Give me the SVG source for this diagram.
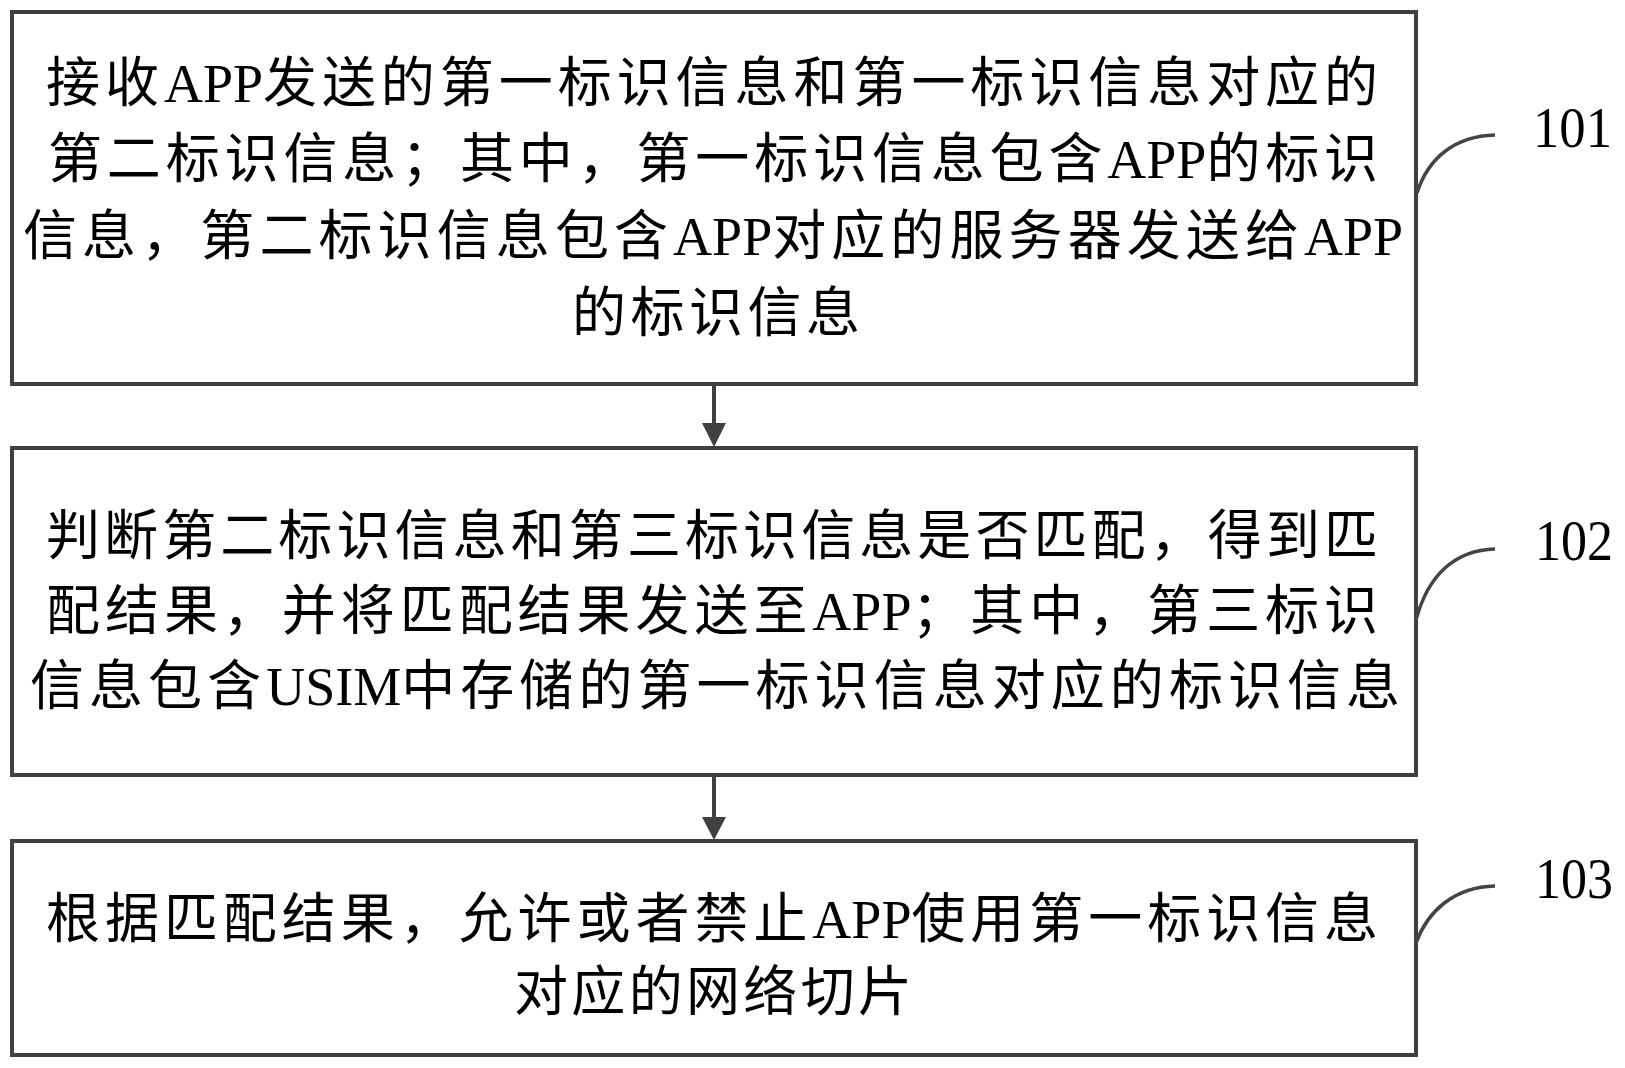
<svg xmlns="http://www.w3.org/2000/svg" width="1625" height="1068" viewBox="0 0 1625 1068">
<style>
.box{fill:#fff;stroke:#404040;stroke-width:4}
.t{font-family:"Liberation Serif","Noto Sans CJK SC",serif;font-size:54px;fill:#000}
.l{letter-spacing:0}
.num{font-family:"Liberation Serif",serif;font-size:58px;fill:#000}
.lead{fill:none;stroke:#454545;stroke-width:3.5}
.conn{stroke:#404040;stroke-width:4;fill:none}
.head{fill:#404040}
</style>
<rect width="1625" height="1068" fill="#fff"/>
<g id="node101">
<rect class="box" x="12" y="12" width="1404" height="372"/>
<text class="t" x="46" y="102" letter-spacing="4.95">接收<tspan class="l">APP</tspan>发送的第一标识信息和第一标识信息对应的</text>
<text class="t" x="48" y="178" letter-spacing="4.85">第二标识信息；其中，第一标识信息包含<tspan class="l">APP</tspan>的标识</text>
<text class="t" x="23" y="255" letter-spacing="5.1">信息，第二标识信息包含<tspan class="l">APP</tspan>对应的服务器发送给<tspan class="l">APP</tspan></text>
<text class="t" x="572" y="332" letter-spacing="4.5">的标识信息</text>
</g>
<g id="node102">
<rect class="box" x="12" y="448" width="1404" height="327"/>
<text class="t" x="46" y="555" letter-spacing="4.09">判断第二标识信息和第三标识信息是否匹配，得到匹</text>
<text class="t" x="46" y="630" letter-spacing="4.95">配结果，并将匹配结果发送至<tspan class="l">APP</tspan>；其中，第三标识</text>
<text class="t" x="30" y="705" letter-spacing="5.05">信息包含<tspan class="l">USIM</tspan>中存储的第一标识信息对应的标识信息</text>
</g>
<g id="node103">
<rect class="box" x="12" y="841" width="1404" height="214"/>
<text class="t" x="46" y="938" letter-spacing="4.95">根据匹配结果，允许或者禁止<tspan class="l">APP</tspan>使用第一标识信息</text>
<text class="t" x="514" y="1011" letter-spacing="3.33">对应的网络切片</text>
</g>
<g id="labels">
<path class="lead" d="M1495,135 C1455,136 1428,158 1417,193"/>
<text class="num" x="1533" y="147" textLength="79" lengthAdjust="spacingAndGlyphs">101</text>
<path class="lead" d="M1495,549 C1455,550 1428,575 1416,620"/>
<text class="num" x="1535" y="560" textLength="78" lengthAdjust="spacingAndGlyphs">102</text>
<path class="lead" d="M1495,886 C1455,887 1428,910 1416,943"/>
<text class="num" x="1535" y="898" textLength="78" lengthAdjust="spacingAndGlyphs">103</text>
</g>
<g id="connectors">
<line class="conn" x1="714" y1="386" x2="714" y2="426"/>
<polygon class="head" points="702,423 726,423 714,447"/>
<line class="conn" x1="714" y1="777" x2="714" y2="820"/>
<polygon class="head" points="702,817 726,817 714,840"/>
</g>
</svg>
